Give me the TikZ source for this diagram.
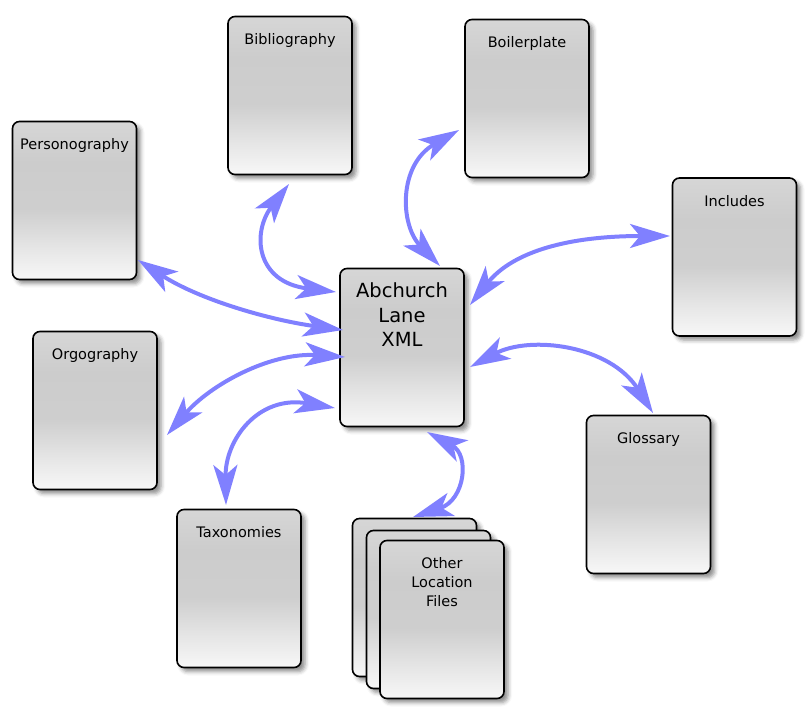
\documentclass[tikz,border=0pt]{standalone}
\usepackage{fontspec}
\setmainfont{DejaVu Sans}
\usetikzlibrary{arrows.meta,shadows.blur}
\definecolor{linkblue}{RGB}{128,128,255}
\pgfdeclareverticalshading{boxshade}{100bp}{color(0bp)=(black!3); color(25bp)=(black!3); color(35bp)=(black!10); color(47bp)=(black!19); color(62bp)=(black!20); color(75bp)=(black!16); color(100bp)=(black!16)}
\begin{document}
\begin{tikzpicture}[x=1pt,y=-1pt,
  box/.style={draw=black, line width=1.6pt, rounded corners=7pt,
    minimum width=124pt, minimum height=158pt, inner sep=0pt,
    shading=boxshade,
    blur shadow={shadow xshift=4pt, shadow yshift=-4pt, shadow blur radius=4pt, shadow opacity=45}},
  lbl/.style={font=\fontsize{14.5}{19}\selectfont, inner sep=0pt, align=center},
  biglbl/.style={font=\fontsize{19.5}{24.5}\selectfont, inner sep=0pt, align=center},
  tipshape/.tip={Stealth[length=40pt,width=24pt,inset=10pt]},
  link/.style={draw=linkblue, line width=4pt, tipshape-tipshape}
]
\useasboundingbox (0,0) rectangle (809,715);

% boxes
\node[box] (bib) at (290,95.5) {};
\node[box] (boil) at (527,98.5) {};
\node[box] (pers) at (74.5,200.5) {};
\node[box] (incl) at (734.5,257) {};
\node[box] (main) at (402,347.5) {};
\node[box] (orgo) at (95,410.5) {};
\node[box] (glos) at (648.5,494.5) {};
\node[box] (taxo) at (239,588.5) {};
\node[box] (oth1) at (414.5,597.5) {};
\node[box] (oth2) at (428.5,609.5) {};
\node[box] (oth3) at (442,619.5) {};

% labels
\node[lbl, anchor=base] (bibT) at (290,44) {Bibliography};
\node[lbl, anchor=base] (boilT) at (527,47) {Boilerplate};
\node[lbl, anchor=base] (persT) at (74.5,149) {Personography};
\node[lbl, anchor=base] (inclT) at (734.5,206) {Includes};
\node[lbl, anchor=base] (orgoT) at (95,359) {Orgography};
\node[lbl, anchor=base] (glosT) at (648.5,443) {Glossary};
\node[lbl, anchor=base] (taxoT) at (239,537) {Taxonomies};
\node[biglbl] (mainT) at (402,315) {Abchurch\\Lane\\XML};
\node[lbl] (othT) at (442,582) {Other\\Location\\Files};

% connector end points
\coordinate (bibE) at (289,184);   \coordinate (mainBib) at (336,292);
\coordinate (boilE) at (459,130);  \coordinate (mainBoil) at (440,266);
\coordinate (inclE) at (670,236);  \coordinate (mainIncl) at (470,305);
\coordinate (glosE) at (653,413);  \coordinate (mainGlos) at (470,367);
\coordinate (persE) at (138,260);  \coordinate (mainPers) at (343,330);
\coordinate (orgoE) at (167,435);  \coordinate (mainOrgo) at (345,357);
\coordinate (taxoE) at (226,505);  \coordinate (mainTaxo) at (335,408);
\coordinate (othE) at (413,517);   \coordinate (mainOth) at (427,432);

% connectors
\draw[link] (bibE) .. controls (252,232) and (255,282) .. (mainBib);
\draw[link] (boilE) .. controls (398,165) and (400,225) .. (mainBoil);
\draw[link] (inclE) .. controls (560,236) and (510,255) .. (mainIncl);
\draw[link] (mainGlos) .. controls (530,335) and (610,345) .. (glosE);
\draw[link] (persE) .. controls (200,300) and (270,320) .. (mainPers);
\draw[link] (mainOrgo) .. controls (270,352) and (210,385) .. (orgoE);
\draw[link] (mainTaxo) .. controls (258,395) and (225,440) .. (taxoE);
\draw[link] (mainOth) .. controls (470,455) and (465,500) .. (othE);
\end{tikzpicture}
\end{document}
